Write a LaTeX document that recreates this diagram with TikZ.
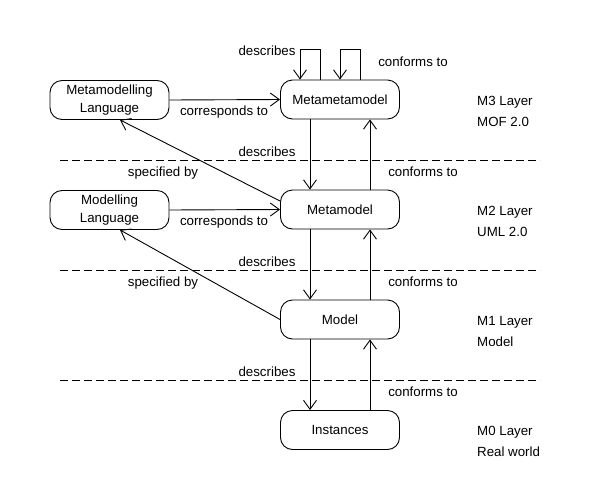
\documentclass[tikz,border=0pt]{standalone}
\usepackage{fontspec}
\setmainfont{Liberation Sans}
\usetikzlibrary{arrows.meta}
\begin{document}
\begin{tikzpicture}[x=1pt,y=-1pt,
  every node/.style={font=\fontsize{13.3}{18}\selectfont},
  box/.style={draw,line width=0.9pt,rounded corners=12pt,minimum width=119pt,minimum height=39pt,inner sep=0pt,align=center},
  arr/.style={draw,line width=0.9pt,-{Straight Barb[length=9pt,width=13pt,line width=0.9pt]}},
  ln/.style={draw,line width=0.9pt},
  layer/.style={anchor=west,inner sep=0pt},
  lbl/.style={inner sep=0pt},
  sep/.style={draw,line width=0.9pt,dash pattern=on 8pt off 4pt}]
\useasboundingbox (0,0) rectangle (590,480);
% nodes
\node[box] (mmm) at (340,99.5) {Metametamodel};
\node[box] (mm) at (340,209.5) {Metamodel};
\node[box] (m) at (340,319.5) {Model};
\node[box] (inst) at (340,430) {Instances};
\node[box] (mml) at (109.5,100) {Metamodelling\\Language};
\node[box] (ml) at (109.5,210) {Modelling\\Language};
% layers
\node[layer] (l3a) at (477,102) {M3 Layer};
\node[layer] (l3b) at (477,122) {MOF 2.0};
\node[layer] (l2a) at (477,212) {M2 Layer};
\node[layer] (l2b) at (477,232) {UML 2.0};
\node[layer] (l1a) at (477,322) {M1 Layer};
\node[layer] (l1b) at (477,342) {Model};
\node[layer] (l0a) at (477,432) {M0 Layer};
\node[layer] (l0b) at (477,452) {Real world};
% dashed separators
\coordinate (s1a) at (60,160); \coordinate (s1b) at (540,160);
\coordinate (s2a) at (60,270); \coordinate (s2b) at (540,270);
\coordinate (s3a) at (60,380); \coordinate (s3b) at (540,380);
\path[sep] (s1a) -- (s1b);
\path[sep] (s2a) -- (s2b);
\path[sep] (s3a) -- (s3b);
% self loops on Metametamodel
\path[arr] ([xshift=-20pt]mmm.north) -- ++(0,-30) -| ([xshift=-40pt]mmm.north);
\path[arr] ([xshift=20pt]mmm.north) -- ++(0,-30) -| ([xshift=0pt]mmm.north);
\node[lbl] (tdesc) at (267,51) {describes};
\node[lbl] (tconf) at (413,62) {conforms to};
% corresponds to
\path[arr] (mml.east) -- (mmm.west);
\path[arr] (ml.east) -- (mm.west);
\node[lbl] (c1) at (224,112.5) {corresponds to};
\node[lbl] (c2) at (224,222.5) {corresponds to};
% describes (down) and conforms to (up)
\path[arr] ([xshift=-30pt]mmm.south) -- ([xshift=-30pt]mm.north);
\path[arr] ([xshift=30pt]mm.north) -- ([xshift=30pt]mmm.south);
\path[arr] ([xshift=-30pt]mm.south) -- ([xshift=-30pt]m.north);
\path[arr] ([xshift=30pt]m.north) -- ([xshift=30pt]mm.south);
\path[arr] ([xshift=-30pt]m.south) -- ([xshift=-30pt]inst.north);
\path[arr] ([xshift=30pt]inst.north) -- ([xshift=30pt]m.south);
\node[lbl] (d1) at (267,151.5) {describes};
\node[lbl] (d2) at (267,261.5) {describes};
\node[lbl] (d3) at (267,371.5) {describes};
\node[lbl] (f1) at (423,172) {conforms to};
\node[lbl] (f2) at (423,282) {conforms to};
\node[lbl] (f3) at (423,392) {conforms to};
% specified by
\path[arr] ([yshift=8.5pt]mm.west) -- ([xshift=10.5pt]mml.south);
\path[arr] (m.west) -- ([xshift=10.5pt]ml.south);
\node[lbl] (sp1) at (163,173) {specified by};
\node[lbl] (sp2) at (163,283) {specified by};
\end{tikzpicture}
\end{document}
